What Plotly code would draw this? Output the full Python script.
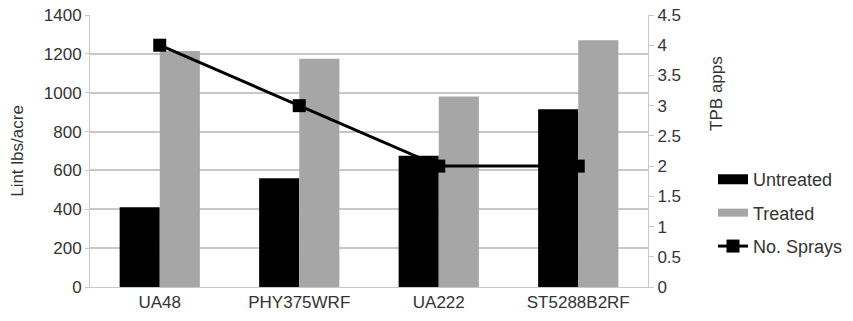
import plotly.graph_objects as go

categories = ["UA48", "PHY375WRF", "UA222", "ST5288B2RF"]
untreated = [410, 560, 675, 915]
treated = [1215, 1175, 980, 1270]
sprays = [4, 3, 2, 2]

font_family = "Liberation Sans, Arial, sans-serif"
txt = "#333333"
grid = "#c8c8c8"
black = "#000000"
gray = "#a6a6a6"

fig = go.Figure()
fig.add_trace(go.Bar(x=categories, y=untreated, name="Untreated",
                     marker=dict(color=black, line=dict(width=0)),
                     showlegend=False))
fig.add_trace(go.Bar(x=categories, y=treated, name="Treated",
                     marker=dict(color=gray, line=dict(width=0)),
                     showlegend=False))
fig.add_trace(go.Scatter(x=categories, y=sprays, name="No. Sprays", yaxis="y2",
                         mode="lines+markers",
                         line=dict(color=black, width=3),
                         marker=dict(symbol="square", size=13, color=black),
                         legendgroup="c", showlegend=False))
# legend entries (wide rectangles like the original)
fig.add_trace(go.Scatter(x=[None], y=[None], name="Untreated", mode="lines",
                         line=dict(color=black, width=10), legendgroup="a"))
fig.add_trace(go.Scatter(x=[None], y=[None], name="Treated", mode="lines",
                         line=dict(color=gray, width=8), legendgroup="b"))
fig.add_trace(go.Scatter(x=[None], y=[None], name="No. Sprays", mode="lines+markers",
                         line=dict(color=black, width=3),
                         marker=dict(symbol="square", size=13, color=black),
                         legendgroup="c"))

fig.update_layout(
    width=853, height=321,
    margin=dict(l=90, r=205, t=15, b=34, autoexpand=False),
    paper_bgcolor="white", plot_bgcolor="white",
    font=dict(family=font_family, size=17, color=txt),
    barmode="group", bargap=0.425, bargroupgap=0,
    showlegend=True,
    legend=dict(x=1.1165, xanchor="left", y=0.463, yanchor="top",
                traceorder="grouped", tracegroupgap=7,
                font=dict(size=18, color=txt), bgcolor="rgba(0,0,0,0)"),
    xaxis=dict(showgrid=False, showline=True, linecolor=grid, linewidth=1,
               ticks="", tickfont=dict(size=17, color=txt), automargin=False),
    yaxis=dict(range=[0, 1400], dtick=200, showgrid=True, gridcolor=grid, gridwidth=1.5,
               showline=True, linecolor=grid, ticks="outside", ticklen=4, tickcolor=grid,
               zeroline=False, ticklabeloverflow="allow", automargin=False,
               title=dict(text="Lint lbs/acre", font=dict(size=17, color=txt)),
               tickfont=dict(size=17, color=txt)),
    yaxis2=dict(range=[0, 4.5], dtick=0.5, overlaying="y", side="right", showgrid=False,
                showline=True, linecolor=grid, ticks="outside", ticklen=5, tickcolor=grid,
                zeroline=False, ticklabeloverflow="allow", automargin=False,
                tickfont=dict(size=17, color=txt)),
)

fig.add_annotation(text="TPB apps", xref="paper", yref="paper", x=1.1237, y=0.71,
                   xanchor="center", yanchor="middle", textangle=-90, showarrow=False,
                   font=dict(size=17, color=txt))

fig.write_html("out.html", config={"displayModeBar": False},
               post_script="document.body.style.margin='0';document.body.style.overflow='hidden';")
